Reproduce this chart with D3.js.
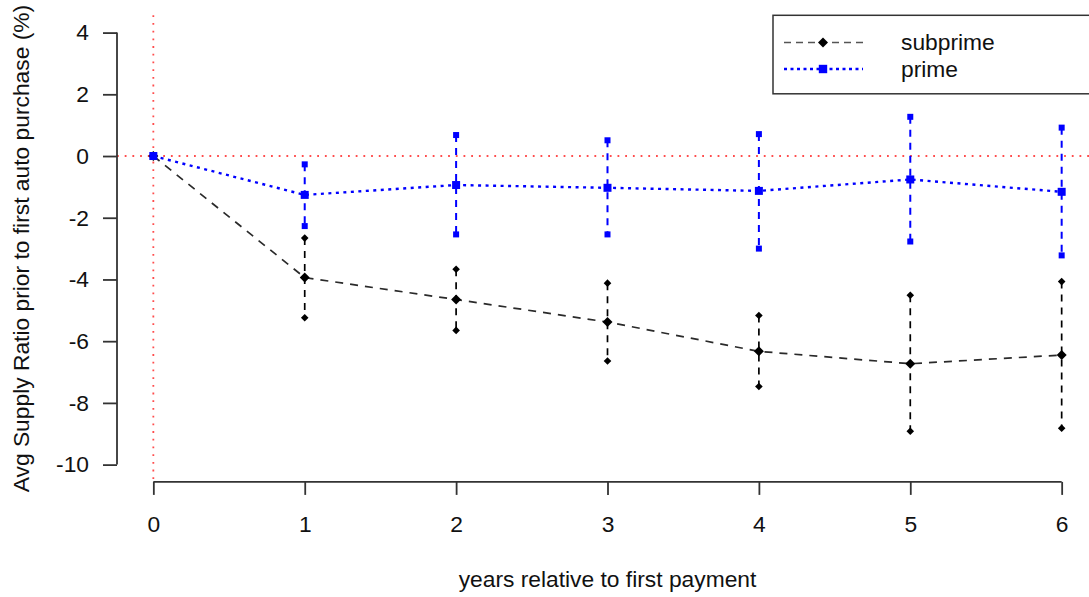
<!DOCTYPE html>
<html>
<head>
<meta charset="utf-8">
<script src="https://cdn.jsdelivr.net/npm/d3@7"></script>
<style>
  html, body { margin: 0; padding: 0; background: #fff; }
  svg { display: block; }
  text { font-family: "Liberation Sans", Arial, Helvetica, sans-serif; fill: #111; }
</style>
</head>
<body>
<svg id="chart" width="1089" height="597"></svg>
<script>
const years = [0, 1, 2, 3, 4, 5, 6];
const subprimeMean  = [0, -3.94, -4.65, -5.38, -6.33, -6.73, -6.45];
const subprimeUpper = [null, -2.66, -3.67, -4.12, -5.17, -4.51, -4.07];
const subprimeLower = [null, -5.24, -5.65, -6.64, -7.47, -8.92, -8.82];
const primeMean  = [0, -1.26, -0.94, -1.03, -1.13, -0.76, -1.16];
const primeUpper = [null, -0.27, 0.68, 0.51, 0.71, 1.27, 0.92];
const primeLower = [null, -2.27, -2.54, -2.54, -3.00, -2.77, -3.22];
const yTicks = [-10, -8, -6, -4, -2, 0, 2, 4];
const xTicks = [0, 1, 2, 3, 4, 5, 6];
const seriesNames = ["subprime", "prime"];
const xTitle = "years relative to first payment";
const yTitle = "Avg Supply Ratio prior to first auto purchase (%)";

const svg = d3.select("#chart");
const FS = 22.8;

const x = d3.scaleLinear().domain([-0.24, 6.24]).range([117, 1098]);
const y = d3.scaleLinear().domain([-10.56, 4.56]).range([481.9, 15.3]);

// reference lines
svg.append("line")
  .attr("x1", x.range()[0]).attr("x2", x.range()[1])
  .attr("y1", y(0)).attr("y2", y(0))
  .attr("stroke", "#ff4d4d").attr("stroke-width", 1.8)
  .attr("stroke-dasharray", "1.8,5.9");
svg.append("line")
  .attr("x1", x(0)).attr("x2", x(0))
  .attr("y1", y.range()[1]).attr("y2", y.range()[0])
  .attr("stroke", "#ff4d4d").attr("stroke-width", 1.8)
  .attr("stroke-dasharray", "1.8,5.9");

// y axis
const yAxis = d3.axisLeft(y).tickValues(yTicks).tickSize(14).tickPadding(14)
  .tickFormat(d => String(d));
const gy = svg.append("g").attr("transform", `translate(${x.range()[0]},0)`).call(yAxis);
gy.select(".domain").remove();
gy.append("line").attr("x1", 0).attr("x2", 0)
  .attr("y1", y(4)).attr("y2", y(-10))
  .attr("stroke", "#333").attr("stroke-width", 1.8);
gy.selectAll(".tick line").attr("stroke", "#333").attr("stroke-width", 1.8);
gy.selectAll(".tick text").attr("font-size", FS).attr("fill", "#111")
  .style("font-family", "'Liberation Sans', Arial, sans-serif");

// x axis
const xAxis = d3.axisBottom(x).tickValues(xTicks).tickSize(13).tickPadding(21)
  .tickFormat(d => String(d));
const gx = svg.append("g").attr("transform", `translate(0,${y.range()[0]})`).call(xAxis);
gx.select(".domain").remove();
gx.append("line").attr("x1", x(0)).attr("x2", x(6))
  .attr("y1", 0).attr("y2", 0)
  .attr("stroke", "#333").attr("stroke-width", 1.8);
gx.selectAll(".tick line").attr("stroke", "#333").attr("stroke-width", 1.8);
gx.selectAll(".tick text").attr("font-size", FS).attr("fill", "#111")
  .style("font-family", "'Liberation Sans', Arial, sans-serif");

// titles
svg.append("text").attr("x", (x.range()[0] + x.range()[1]) / 2).attr("y", 587)
  .attr("text-anchor", "middle").attr("font-size", FS).text(xTitle);
svg.append("text")
  .attr("transform", `translate(28.5,${(y.range()[0] + y.range()[1]) / 2}) rotate(-90)`)
  .attr("text-anchor", "middle").attr("font-size", FS).text(yTitle);

const diamond = (cx, cy, r) => `M${cx},${cy - r}L${cx + r},${cy}L${cx},${cy + r}L${cx - r},${cy}Z`;

function drawSeries(mean, upper, lower, opts) {
  const g = svg.append("g");
  // error bars
  years.forEach((yr, i) => {
    if (upper[i] == null) return;
    g.append("line")
      .attr("x1", x(yr)).attr("x2", x(yr))
      .attr("y1", y(upper[i])).attr("y2", y(lower[i]))
      .attr("stroke", opts.color).attr("stroke-width", opts.barWidth)
      .attr("stroke-dasharray", "7,6");
  });
  // connecting line
  const line = d3.line().x((d, i) => x(years[i])).y(d => y(d));
  g.append("path").datum(mean).attr("d", line)
    .attr("fill", "none").attr("stroke", opts.lineColor)
    .attr("stroke-width", opts.lineWidth)
    .attr("stroke-dasharray", opts.dash);
  // end markers
  years.forEach((yr, i) => {
    if (upper[i] == null) return;
    [upper[i], lower[i]].forEach(v => {
      if (opts.shape === "diamond") {
        g.append("path").attr("d", diamond(x(yr), y(v), 3.8)).attr("fill", opts.color);
      } else {
        g.append("rect").attr("x", x(yr) - 3).attr("y", y(v) - 3)
          .attr("width", 6).attr("height", 6).attr("fill", opts.color);
      }
    });
  });
  // center markers
  years.forEach((yr, i) => {
    if (opts.shape === "diamond") {
      g.append("path").attr("d", diamond(x(yr), y(mean[i]), 5)).attr("fill", opts.color);
    } else {
      g.append("rect").attr("x", x(yr) - 4).attr("y", y(mean[i]) - 4)
        .attr("width", 8).attr("height", 8).attr("fill", opts.color);
    }
  });
}

const styles = [
  { color: "#000", lineColor: "#2a2a2a", lineWidth: 1.7, barWidth: 1.7, dash: "8,7", shape: "diamond" },
  { color: "#0000ff", lineColor: "#0000ff", lineWidth: 2.4, barWidth: 2.0, dash: "3,4.5", shape: "square" }
];
drawSeries(subprimeMean, subprimeUpper, subprimeLower, styles[0]);
drawSeries(primeMean, primeUpper, primeLower, styles[1]);

// legend
const lg = svg.append("g");
lg.append("rect").attr("x", 773).attr("y", y.range()[1])
  .attr("width", 330).attr("height", 78.5)
  .attr("fill", "#fff").attr("stroke", "#333").attr("stroke-width", 1.5);
const legendY = [42.5, 69];
seriesNames.forEach((name, i) => {
  const s = styles[i];
  lg.append("line").attr("x1", 784).attr("x2", 863)
    .attr("y1", legendY[i]).attr("y2", legendY[i])
    .attr("stroke", i === 0 ? "#555" : s.lineColor).attr("stroke-width", s.lineWidth)
    .attr("stroke-dasharray", i === 0 ? "7,5" : "3,3.5");
  if (s.shape === "diamond") {
    lg.append("path").attr("d", diamond(823, legendY[i], 5)).attr("fill", s.color);
  } else {
    lg.append("rect").attr("x", 823 - 4.2).attr("y", legendY[i] - 4.2)
      .attr("width", 8.4).attr("height", 8.4).attr("fill", s.color);
  }
  lg.append("text").attr("x", 901).attr("y", legendY[i]).attr("dy", "0.35em")
    .attr("font-size", FS).text(name);
});
</script>
</body>
</html>
